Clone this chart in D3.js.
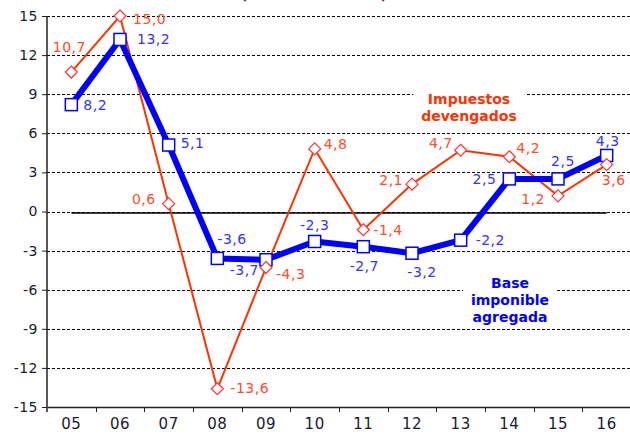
<!DOCTYPE html>
<html>
<head>
<meta charset="utf-8">
<script src="https://cdn.jsdelivr.net/npm/d3@7"></script>
<style>
  body { margin: 0; background: #fff; }
  svg { display: block; font-family: Verdana, 'DejaVu Sans', sans-serif; }
</style>
</head>
<body>
<div id="chart"></div>
<script>
// data
const years = ['05', '06', '07', '08', '09', '10', '11', '12', '13', '14', '15', '16'];
const impuestos = [10.7, 15.0, 0.6, -13.6, -4.3, 4.8, -1.4, 2.1, 4.7, 4.2, 1.2, 3.6];
const baseImponible = [8.2, 13.2, 5.1, -3.6, -3.7, -2.3, -2.7, -3.2, -2.2, 2.5, 2.5, 4.3];
const yTicks = [15, 12, 9, 6, 3, 0, -3, -6, -9, -12, -15];

// label placement (anchor, dx, dy) for each point
const impLabelPos = [
    ['middle', -2, -25], ['start', 13, 3], ['end', -13, -5], ['start', 13, -1],
    ['start', 10, 7], ['start', 9, -5], ['start', 10, 0], ['end', -9, -4],
    ['end', -8, -7], ['start', 7, -9], ['end', -13, 3], ['middle', 7, 16]
];
const baseLabelPos = [
    ['start', 12, 0], ['start', 17, 0], ['start', 12, -2], ['start', 0, -19],
    ['end', -7, 10], ['middle', 0, -16], ['middle', 1, 19], ['middle', 10, 19],
    ['start', 15, 0], ['end', -13, 0], ['middle', 5, -18], ['middle', 1, -14]
];

const width = 630;
const height = 436;
const plotLeft = 47, plotRight = 631, plotTop = 16, plotBottom = 407;

const orange = '#ff3300';
const orangeText = '#ff4d26';
const blue = '#0000ff';
const blueText = '#3333ff';

const fmt = (v) => v.toFixed(1).replace('.', ',');

let svg = d3.select('#chart')
    .append('svg')
        .attr('width', width)
        .attr('height', height);

var xScale = d3.scaleBand()
    .domain(years)
    .range([plotLeft, plotRight])
    .padding(0);

var yScale = d3.scaleLinear()
    .domain([-15, 15])
    .range([plotBottom, plotTop]);

const cx = (d, i) => xScale(years[i]) + xScale.bandwidth() / 2;

// title (cut off at top, as in the source)
svg.append('text')
    .attr('x', 314)
    .attr('y', 0)
    .attr('text-anchor', 'middle')
    .attr('font-size', 13)
    .attr('font-weight', 'bold')
    .attr('fill', '#4d3319')
    .text('(tasas de variación)');

// dashed grid lines
svg.append('g')
    .selectAll('line')
    .data(yTicks.filter((t) => t !== -15))
    .enter()
    .append('line')
        .attr('x1', plotLeft)
        .attr('x2', plotRight)
        .attr('y1', (d) => Math.round(yScale(d)) + 0.5)
        .attr('y2', (d) => Math.round(yScale(d)) + 0.5)
        .attr('stroke', '#000')
        .attr('stroke-width', 1.2)
        .attr('stroke-dasharray', '3,2');

// solid zero line between first and last point
svg.append('line')
    .attr('x1', cx(null, 0))
    .attr('x2', cx(null, years.length - 1))
    .attr('y1', yScale(0) + 1.5)
    .attr('y2', yScale(0) + 1.5)
    .attr('stroke', '#000')
    .attr('stroke-width', 1.5);

// y-axis
let yAxis = svg.append('g')
    .attr('transform', `translate(${plotLeft}, 0)`)
    .call(d3.axisLeft(yScale).tickValues(yTicks).tickSize(5).tickSizeOuter(0).tickFormat(d3.format('d')));
yAxis.select('.domain').attr('stroke', '#222').attr('stroke-width', 1.5)
    .attr('d', `M0,${plotTop}V${plotBottom + 5}`);
yAxis.selectAll('.tick line').attr('stroke', '#222');
yAxis.selectAll('.tick text')
    .attr('font-size', 14)
    .attr('font-family', "Verdana, 'DejaVu Sans', sans-serif")
    .attr('letter-spacing', 0.5)
    .attr('fill', '#1a1a2e')
    .attr('x', -9)
    .text((d) => String(d));

// x-axis
let xAxis = svg.append('g')
    .attr('transform', `translate(0, ${plotBottom})`)
    .call(d3.axisBottom(xScale).tickSize(0).tickSizeOuter(0));
xAxis.select('.domain').attr('stroke', '#222').attr('stroke-width', 1.5);
xAxis.selectAll('.tick text')
    .attr('font-size', 15)
    .attr('font-family', "Verdana, 'DejaVu Sans', sans-serif")
    .attr('letter-spacing', 0.5)
    .attr('fill', '#1a1a2e')
    .attr('dy', '1.25em');
// ticks at band edges
xAxis.selectAll('.edge')
    .data(years.slice(1))
    .enter()
    .append('line')
        .attr('x1', (d) => Math.round(xScale(d)) + 0.5)
        .attr('x2', (d) => Math.round(xScale(d)) + 0.5)
        .attr('y1', 0)
        .attr('y2', 5)
        .attr('stroke', '#222');

// series labels (white box breaks the grid)
function seriesLabel(lines, x, y, colour) {
    let g = svg.append('g');
    let t = g.append('text')
        .attr('text-anchor', 'middle')
        .attr('font-size', 14)
        .attr('font-weight', 'bold')
        .attr('fill', colour);
    lines.forEach((s, i) => {
        t.append('tspan').attr('x', x).attr('y', y + i * 17).text(s);
    });
    let b = t.node().getBBox();
    g.insert('rect', 'text')
        .attr('x', b.x - 8)
        .attr('y', b.y - 2)
        .attr('width', b.width + 16)
        .attr('height', b.height + 4)
        .attr('fill', '#fff');
}
seriesLabel(['Impuestos', 'devengados'], 469, 104, orange);
seriesLabel(['Base', 'imponible', 'agregada'], 510, 288, blue);

const line = d3.line()
    .x(cx)
    .y((d) => yScale(d));

// impuestos devengados
svg.append('path')
    .datum(impuestos)
    .attr('d', line)
    .attr('fill', 'none')
    .attr('stroke', orange)
    .attr('stroke-width', 2);

// base imponible agregada
svg.append('path')
    .datum(baseImponible)
    .attr('d', line)
    .attr('fill', 'none')
    .attr('stroke', blue)
    .attr('stroke-width', 6)
    .attr('stroke-linejoin', 'round');

svg.append('g')
    .selectAll('rect')
    .data(baseImponible)
    .enter()
    .append('rect')
        .attr('x', (d, i) => cx(d, i) - 6)
        .attr('y', (d) => yScale(d) - 6)
        .attr('width', 12)
        .attr('height', 12)
        .attr('fill', '#fff')
        .attr('stroke', blue)
        .attr('stroke-width', 1.5);

svg.append('g')
    .selectAll('path')
    .data(impuestos)
    .enter()
    .append('path')
        .attr('d', 'M0,-6L6,0L0,6L-6,0Z')
        .attr('transform', (d, i) => `translate(${cx(d, i)}, ${yScale(d)})`)
        .attr('fill', '#fff')
        .attr('stroke', '#ff3333')
        .attr('stroke-width', 1.2);

// value labels
function valueLabels(values, pos, colour) {
    svg.append('g')
        .selectAll('text')
        .data(values)
        .enter()
        .append('text')
            .attr('x', (d, i) => cx(d, i) + pos[i][1])
            .attr('y', (d, i) => yScale(d) + pos[i][2])
            .attr('dy', '0.35em')
            .attr('text-anchor', (d, i) => pos[i][0])
            .attr('font-size', 14)
            .attr('letter-spacing', 0.5)
            .attr('fill', colour)
            .text(fmt);
}
valueLabels(impuestos, impLabelPos, orangeText);
valueLabels(baseImponible, baseLabelPos, blueText);
</script>
</body>
</html>
